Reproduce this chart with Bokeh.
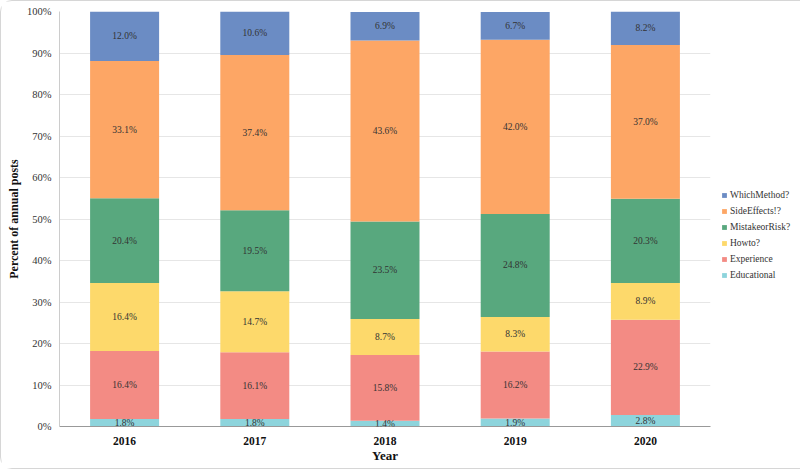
from bokeh.plotting import figure
from bokeh.models import ColumnDataSource, LabelSet, Legend, LegendItem, PrintfTickFormatter, FixedTicker, Range1d
from bokeh.embed import file_html
from bokeh.resources import INLINE

years = ["2016", "2017", "2018", "2019", "2020"]
categories = ["Educational", "Experience", "Howto?", "MistakeorRisk?", "SideEffects!?", "WhichMethod?"]
educational = [1.8, 1.8, 1.4, 1.9, 2.8]
experience = [16.4, 16.1, 15.8, 16.2, 22.9]
howto = [16.4, 14.7, 8.7, 8.3, 8.9]
mistake = [20.4, 19.5, 23.5, 24.8, 20.3]
side_effects = [33.1, 37.4, 43.6, 42.0, 37.0]
which_method = [12.0, 10.6, 6.9, 6.7, 8.2]
colors = ["#8dd4dc", "#f38b84", "#fdd96b", "#58a87e", "#fda665", "#6b8cc4"]

series = [educational, experience, howto, mistake, side_effects, which_method]
data = {"year": years}
for name, vals in zip(categories, series):
    data[name] = vals
source = ColumnDataSource(data)

FONT = "Liberation Serif"

p = figure(x_range=years, frame_width=651, frame_height=415, output_backend="svg", toolbar_location=None,
           min_border_left=58, min_border_right=0, min_border_top=10, min_border_bottom=42)
p.y_range = Range1d(0, 100)
p.x_range.range_padding = 0
p.outline_line_color = None
p.styles = {"border": "1px solid #d6d6d6", "border-radius": "12px"}

renderers = p.vbar_stack(categories, x="year", width=0.53, source=source, color=colors, line_color=None)

# labels
lx, ly, lt = [], [], []
for i, y in enumerate(years):
    base = 0.0
    for vals in series:
        v = vals[i]
        lx.append(y)
        ly.append(base + v / 2)
        lt.append(f"{v:.1f}%")
        base += v
lab_src = ColumnDataSource(dict(x=lx, y=ly, t=lt))
labels = LabelSet(x="x", y="y", text="t", source=lab_src, text_align="center", text_baseline="middle",
                  text_font=FONT, text_font_size="9.5px", text_color="#333333")
p.add_layout(labels)

items = [LegendItem(label=c, renderers=[r]) for c, r in zip(categories, renderers)][::-1]
legend = Legend(items=items, location=(11, 145), glyph_width=6, glyph_height=6, label_height=12,
                spacing=4, label_standoff=3, label_text_font=FONT, label_text_font_size="9.5px",
                label_text_color="#333333", border_line_color=None, background_fill_alpha=0,
                padding=2, margin=0)
p.add_layout(legend, "right")

p.yaxis.ticker = FixedTicker(ticks=list(range(0, 101, 10)))
p.yaxis.formatter = PrintfTickFormatter(format="%d%%")
p.yaxis.major_label_text_font = FONT
p.yaxis.major_label_text_font_size = "10.5px"
p.yaxis.major_label_text_color = "#333333"
p.yaxis.major_tick_line_color = None
p.yaxis.major_tick_out = 0
p.yaxis.minor_tick_line_color = None
p.yaxis.axis_line_color = "#cccccc"
p.yaxis.major_label_standoff = 8
p.yaxis.axis_label = "Percent of annual posts"
p.yaxis.axis_label_text_font = FONT
p.yaxis.axis_label_text_font_style = "bold"
p.yaxis.axis_label_text_font_size = "12px"
p.yaxis.axis_label_text_color = "#111111"
p.yaxis.axis_label_standoff = 3

p.xaxis.axis_label = "Year"
p.xaxis.axis_label_text_font = FONT
p.xaxis.axis_label_text_font_style = "bold"
p.xaxis.axis_label_text_font_size = "13px"
p.xaxis.axis_label_text_color = "#111111"
p.xaxis.axis_label_standoff = 0
p.xaxis.major_label_text_font = FONT
p.xaxis.major_label_text_font_style = "bold"
p.xaxis.major_label_text_font_size = "11.5px"
p.xaxis.major_label_text_color = "#111111"
p.xaxis.major_label_standoff = 10
p.xaxis.major_tick_line_color = None
p.xaxis.major_tick_out = 0
p.xaxis.axis_line_color = "#999999"

p.xgrid.grid_line_color = None
p.ygrid.grid_line_color = "#e6e6e6"

open("out.html", "w").write(file_html(p, INLINE))
